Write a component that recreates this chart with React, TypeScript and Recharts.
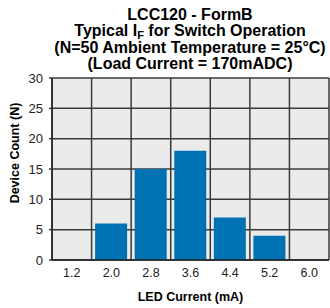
import React from 'react';
import { BarChart, Bar, XAxis, YAxis, CartesianGrid } from 'recharts';

const currents = ['1.2', '2.0', '2.8', '3.6', '4.4', '5.2', '6.0'];
const counts = [0, 6, 15, 18, 7, 4, 0];
const yTicks = [0, 5, 10, 15, 20, 25, 30];

const data = currents.map((x, i) => ({ x, n: counts[i] }));

const font = '"Liberation Sans", Arial, sans-serif';

export default function App() {
    return (
        <div style={{ position: 'absolute', left: 0, top: 0, width: 330, height: 308, fontFamily: font }}>
            <div
                style={{
                    position: 'absolute', left: 30, top: 7, width: 320, textAlign: 'center',
                    fontWeight: 'bold', fontSize: 16, lineHeight: '15.7px', color: '#000',
                }}
            >
                <div>LCC120 - FormB</div>
                <div>
                    Typical I<span style={{ fontSize: 11, position: 'relative', top: 3 }}>F</span> for Switch Operation
                </div>
                <div>(N=50 Ambient Temperature = 25°C)</div>
                <div>(Load Current = 170mADC)</div>
            </div>
            <div style={{ position: 'absolute', left: 14.5, top: 153, width: 0, height: 0 }}>
                <div
                    style={{
                        position: 'absolute', left: -70, top: -8, width: 140, textAlign: 'center',
                        transform: 'rotate(-90deg)', fontWeight: 'bold', fontSize: 12.5, lineHeight: '16px', color: '#000',
                    }}
                >
                    Device Count (N)
                </div>
            </div>
            <BarChart
                width={330}
                height={308}
                data={data}
                margin={{ top: 78, right: 1, bottom: 0, left: 0 }}
                barCategoryGap="9%"
            >
                <CartesianGrid
                    fill="#ebebeb"
                    stroke="#3a3a3a"
                    strokeWidth={1.5}
                    verticalCoordinatesGenerator={({ offset }: any) =>
                        currents.concat(['']).map((_, i) => offset.left + (i * offset.width) / currents.length)
                    }
                />
                <XAxis
                    dataKey="x"
                    height={48}
                    tickLine={false}
                    axisLine={{ stroke: '#222', strokeWidth: 1.5 }}
                    tick={{ fill: '#222', fontSize: 12.5, fontFamily: font }}
                    label={{
                        value: 'LED Current (mA)', position: 'insideBottom', offset: 7,
                        style: { fontWeight: 'bold', fontSize: 12.5, fill: '#000', fontFamily: font },
                    }}
                />
                <YAxis
                    width={52}
                    domain={[0, 30]}
                    ticks={yTicks}
                    tickSize={3}
                    tickMargin={6}
                    tickLine={{ stroke: '#3a3a3a', strokeWidth: 1.5 }}
                    axisLine={{ stroke: '#222', strokeWidth: 1.5 }}
                    tick={{ fill: '#222', fontSize: 13, fontFamily: font }}
                />
                <Bar dataKey="n" fill="#0072b4" isAnimationActive={false} />
            </BarChart>
        </div>
    );
}
